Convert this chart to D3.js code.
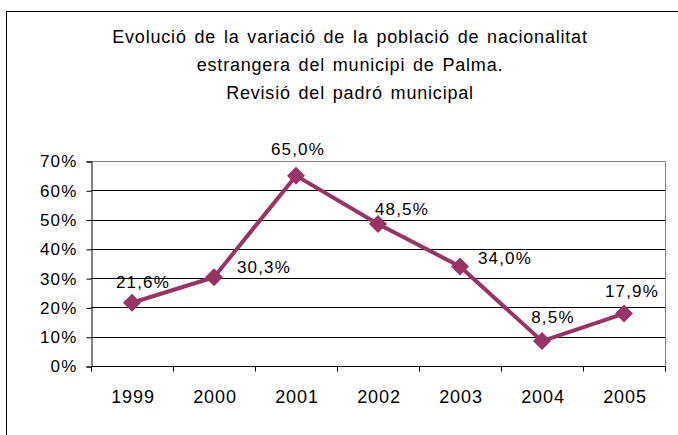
<!DOCTYPE html>
<html lang="en">
<head>
  <meta charset="UTF-8">
  <title>Evolució de la variació de la població</title>
  <script src="https://d3js.org/d3.v7.min.js"></script>
  <style>
    body { margin: 0; background: #fff; }
    text { font-family: "Liberation Sans", Arial, sans-serif; fill: #000; }
  </style>
</head>
<body>
  <div id="chart"></div>
  <script>
    // data
    const years = ['1999', '2000', '2001', '2002', '2003', '2004', '2005'];
    const variation = [21.6, 30.3, 65.0, 48.5, 34.0, 8.5, 17.9];
    const yTicks = [0, 10, 20, 30, 40, 50, 60, 70];
    const titleLines = [
      'Evolució de la variació de la població de nacionalitat',
      'estrangera del municipi de Palma.',
      'Revisió del padró municipal'
    ];

    // where each value label sits relative to its marker
    const labelOffsets = [[11, -15], [50, -4], [2, -21], [24, -9], [45, -2], [11, -18], [8, -17]];

    const W = 678, H = 435;
    const plot = { left: 91, right: 665, top: 161, bottom: 366 };
    const plum = '#993366';

    const svg = d3.select('#chart').append('svg')
      .attr('width', W)
      .attr('height', H);

    // outer chart frame (runs past the picture on the right and bottom)
    svg.append('rect')
      .attr('x', 6.5).attr('y', 11.5)
      .attr('width', 700).attr('height', 500)
      .attr('fill', 'none').attr('stroke', '#000').attr('stroke-width', 1);

    svg.append('g')
      .selectAll('text')
      .data(titleLines)
      .enter()
      .append('text')
      .attr('x', 350)
      .attr('y', (d, i) => 43 + i * 28)
      .attr('text-anchor', 'middle')
      .attr('font-size', 18)
      .attr('letter-spacing', 0.8)
      .attr('word-spacing', 2)
      .text(d => d);

    const x = d3.scaleBand().domain(years).range([plot.left, plot.right]);
    const y = d3.scaleLinear().domain([0, 70]).range([plot.bottom, plot.top]);

    // gridlines
    svg.append('g')
      .selectAll('line')
      .data(yTicks.slice(1))
      .enter()
      .append('line')
      .attr('x1', plot.left).attr('x2', plot.right)
      .attr('y1', d => Math.round(y(d)) + 0.5)
      .attr('y2', d => Math.round(y(d)) + 0.5)
      .attr('stroke', d => d === 70 ? '#808080' : '#000')
      .attr('stroke-width', 1);

    // right border of plot area
    svg.append('line')
      .attr('x1', plot.right + 0.5).attr('x2', plot.right + 0.5)
      .attr('y1', Math.round(y(70)) + 0.5).attr('y2', plot.bottom)
      .attr('stroke', '#808080');

    // y axis
    const yAxis = svg.append('g')
      .attr('transform', `translate(${plot.left + 0.5},0.5)`)
      .call(d3.axisLeft(y).tickValues(yTicks).tickSize(5).tickPadding(9)
        .tickFormat(d => d + '%'));
    yAxis.select('.domain').attr('stroke', '#000');
    yAxis.selectAll('.tick line').attr('stroke', '#000');
    yAxis.selectAll('.tick text')
      .attr('font-size', 17)
      .attr('letter-spacing', 1.2)
      .attr('font-family', null);

    // x axis: ticks at category boundaries
    const xAxisG = svg.append('g')
      .attr('transform', `translate(0,${plot.bottom + 0.5})`);
    xAxisG.append('line')
      .attr('x1', plot.left).attr('x2', plot.right + 1)
      .attr('stroke', '#000');
    const bounds = years.map(d => x(d)).concat([x.range()[1]]);
    xAxisG.selectAll('line.tk')
      .data(bounds)
      .enter()
      .append('line')
      .attr('class', 'tk')
      .attr('x1', d => Math.round(d) + 0.5).attr('x2', d => Math.round(d) + 0.5)
      .attr('y1', 0).attr('y2', 5)
      .attr('stroke', '#000');
    xAxisG.selectAll('text')
      .data(years)
      .enter()
      .append('text')
      .attr('x', d => x(d) + x.bandwidth() / 2 + 1)
      .attr('y', 36)
      .attr('text-anchor', 'middle')
      .attr('font-size', 18)
      .attr('letter-spacing', 0.9)
      .text(d => d);

    const pts = years.map((d, i) => ({ year: d, v: variation[i], i }));
    const cx = d => x(d.year) + x.bandwidth() / 2;

    svg.append('path')
      .datum(pts)
      .attr('fill', 'none')
      .attr('stroke', plum)
      .attr('stroke-width', 4)
      .attr('stroke-linejoin', 'round')
      .attr('d', d3.line().x(cx).y(d => y(d.v)));

    svg.append('g')
      .selectAll('path')
      .data(pts)
      .enter()
      .append('path')
      .attr('transform', d => `translate(${cx(d)},${y(d.v)})`)
      .attr('d', 'M0,-9L9,0L0,9L-9,0Z')
      .attr('fill', plum);

    svg.append('g')
      .selectAll('text')
      .data(pts)
      .enter()
      .append('text')
      .attr('x', d => cx(d) + labelOffsets[d.i][0])
      .attr('y', d => y(d.v) + labelOffsets[d.i][1])
      .attr('text-anchor', 'middle')
      .attr('font-size', 17)
      .attr('letter-spacing', 1.2)
      .text(d => d.v.toFixed(1).replace('.', ',') + '%');
  </script>
</body>
</html>
